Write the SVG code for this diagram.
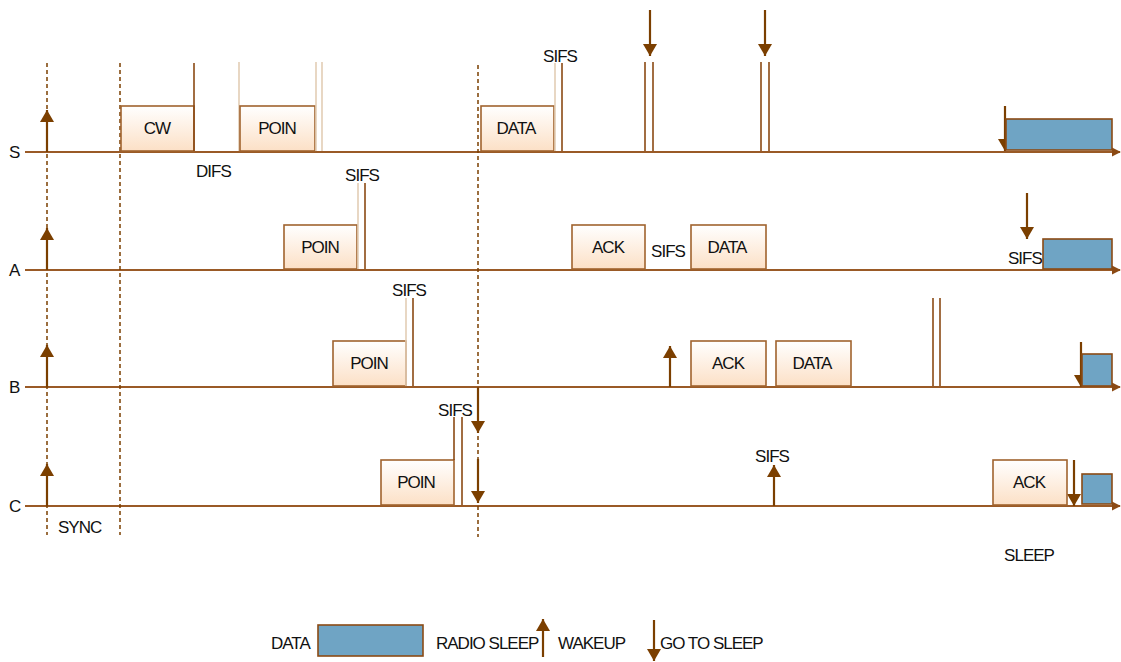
<svg xmlns="http://www.w3.org/2000/svg" width="1121" height="662" viewBox="0 0 1121 662">
<style>
text{font-family:"Liberation Sans",Arial,sans-serif;font-size:17px;fill:#111;letter-spacing:-1px}
.lbl{text-anchor:middle}
.tl{stroke:#9A5A26;stroke-width:2;fill:none}
.dash{stroke:#7B3F00;stroke-width:1.5;stroke-dasharray:4,3;fill:none}
.box{fill:url(#pg);stroke:#A0632E;stroke-width:1.6}
.sleep{fill:#6FA4C4;stroke:#8B4A14;stroke-width:1.6}
.v{stroke:#8B4A14;stroke-width:1.6}
.vl{stroke:#E3CDB5;stroke-width:1.6}
.ar{stroke:#7B3F00;stroke-width:2.2;fill:none}
</style>
<defs>
<linearGradient id="pg" x1="0" y1="0" x2="0" y2="1">
<stop offset="0" stop-color="#FFFFFF"/>
<stop offset="1" stop-color="#FCE0C6"/>
</linearGradient>
<marker id="ah" viewBox="0 0 10 10" refX="9" refY="5" markerWidth="9" markerHeight="10" orient="auto" markerUnits="userSpaceOnUse">
<path d="M0,0 L10,5 L0,10 z" fill="#8B4A14"/>
</marker>
<marker id="arr" viewBox="0 0 12 14" refX="12" refY="7" markerWidth="12" markerHeight="14" orient="auto" markerUnits="userSpaceOnUse">
<path d="M0,0 L12,7 L0,14 z" fill="#7B3F00"/>
</marker>
</defs>

<g id="timelines">
<line class="tl" x1="25" y1="152" x2="1120" y2="152" marker-end="url(#ah)"/>
<line class="tl" x1="25" y1="270" x2="1120" y2="270" marker-end="url(#ah)"/>
<line class="tl" x1="25" y1="387" x2="1120" y2="387" marker-end="url(#ah)"/>
<line class="tl" x1="25" y1="506" x2="1120" y2="506" marker-end="url(#ah)"/>
<text x="9" y="158">S</text>
<text x="9" y="276">A</text>
<text x="9" y="393">B</text>
<text x="9" y="512">C</text>
</g>

<g id="dashed">
<line class="dash" x1="47" y1="63" x2="47" y2="535"/>
<line class="dash" x1="120" y1="63" x2="120" y2="535"/>
<line class="dash" x1="478" y1="65" x2="478" y2="537"/>
</g>

<g id="connectors">
<line class="ar" x1="47" y1="152" x2="47" y2="110" marker-end="url(#arr)"/>
<line class="ar" x1="47" y1="270" x2="47" y2="228" marker-end="url(#arr)"/>
<line class="ar" x1="47" y1="387" x2="47" y2="345" marker-end="url(#arr)"/>
<line class="ar" x1="47" y1="506" x2="47" y2="464" marker-end="url(#arr)"/>
<line class="ar" x1="650" y1="10" x2="650" y2="56" marker-end="url(#arr)"/>
<line class="ar" x1="765" y1="10" x2="765" y2="56" marker-end="url(#arr)"/>
<line class="ar" x1="1005" y1="106" x2="1005" y2="151" marker-end="url(#arr)"/>
<line class="ar" x1="1027" y1="193" x2="1027" y2="239" marker-end="url(#arr)"/>
<line class="ar" x1="670" y1="387" x2="670" y2="346" marker-end="url(#arr)"/>
<line class="ar" x1="1081" y1="342" x2="1081" y2="387" marker-end="url(#arr)"/>
<line class="ar" x1="478" y1="388" x2="478" y2="433" marker-end="url(#arr)"/>
<line class="ar" x1="478" y1="459" x2="478" y2="503" marker-end="url(#arr)"/>
<line class="ar" x1="774" y1="506" x2="774" y2="465" marker-end="url(#arr)"/>
<line class="ar" x1="1074" y1="460" x2="1074" y2="506" marker-end="url(#arr)"/>
</g>

<g id="node-S">
<rect class="box" x="121" y="106" width="73" height="45"/>
<text class="lbl" x="157" y="134">CW</text>
<line class="v" x1="194" y1="63" x2="194" y2="151"/>
<text x="196" y="177">DIFS</text>
<line class="vl" x1="239" y1="62" x2="239" y2="151"/>
<rect class="box" x="240" y="106" width="75" height="45"/>
<text class="lbl" x="277" y="134">POIN</text>
<line class="vl" x1="316" y1="62" x2="316" y2="151"/>
<line class="vl" x1="322" y1="62" x2="322" y2="151"/>
<rect class="box" x="481" y="106" width="73" height="45"/>
<text class="lbl" x="516" y="134">DATA</text>
<line class="vl" x1="555" y1="63" x2="555" y2="151"/>
<line class="v" x1="562" y1="63" x2="562" y2="151"/>
<text class="lbl" x="560" y="62">SIFS</text>
<line class="v" x1="645" y1="62" x2="645" y2="151"/>
<line class="v" x1="653" y1="62" x2="653" y2="151"/>
<line class="v" x1="761" y1="62" x2="761" y2="151"/>
<line class="v" x1="769" y1="62" x2="769" y2="151"/>
<rect class="sleep" x="1006" y="119" width="106" height="31"/>
</g>

<g id="node-A">
<rect class="box" x="284" y="225" width="73" height="44"/>
<text class="lbl" x="320" y="253">POIN</text>
<line class="vl" x1="358" y1="183" x2="358" y2="269"/>
<line class="v" x1="365" y1="183" x2="365" y2="269"/>
<text class="lbl" x="362" y="181">SIFS</text>
<rect class="box" x="572" y="225" width="73" height="44"/>
<text class="lbl" x="608" y="253">ACK</text>
<text class="lbl" x="668" y="257">SIFS</text>
<rect class="box" x="691" y="225" width="75" height="44"/>
<text class="lbl" x="727" y="253">DATA</text>
<text x="1008" y="264">SIFS</text>
<rect class="sleep" x="1043" y="239" width="69" height="30"/>
</g>

<g id="node-B">
<rect class="box" x="333" y="341" width="73" height="45"/>
<text class="lbl" x="369" y="369">POIN</text>
<line class="vl" x1="406" y1="298" x2="406" y2="386"/>
<line class="v" x1="413" y1="298" x2="413" y2="386"/>
<text class="lbl" x="409" y="296">SIFS</text>
<rect class="box" x="691" y="341" width="75" height="45"/>
<text class="lbl" x="728" y="369">ACK</text>
<rect class="box" x="776" y="341" width="75" height="45"/>
<text class="lbl" x="812" y="369">DATA</text>
<line class="v" x1="933" y1="298" x2="933" y2="386"/>
<line class="v" x1="940" y1="298" x2="940" y2="386"/>
<rect class="sleep" x="1082" y="354" width="30" height="32"/>
</g>

<g id="node-C">
<rect class="box" x="381" y="460" width="73" height="45"/>
<text class="lbl" x="416" y="488">POIN</text>
<line class="v" x1="454" y1="417" x2="454" y2="460"/>
<line class="v" x1="462" y1="417" x2="462" y2="505"/>
<text class="lbl" x="455" y="416">SIFS</text>
<text class="lbl" x="772" y="462">SIFS</text>
<rect class="box" x="993" y="460" width="74" height="45"/>
<text class="lbl" x="1029" y="488">ACK</text>
<rect class="sleep" x="1082" y="474" width="30" height="30"/>
<text x="58" y="533">SYNC</text>
<text class="lbl" x="1029" y="561">SLEEP</text>
</g>

<g id="legend">
<text x="271" y="649">DATA</text>
<rect class="sleep" x="318" y="625" width="105" height="31"/>
<text x="436" y="649">RADIO SLEEP</text>
<line class="ar" x1="543" y1="657" x2="543" y2="619" marker-end="url(#arr)"/>
<text x="558" y="649">WAKEUP</text>
<line class="ar" x1="654" y1="620" x2="654" y2="661" marker-end="url(#arr)"/>
<text x="660" y="649">GO TO SLEEP</text>
</g>
</svg>
